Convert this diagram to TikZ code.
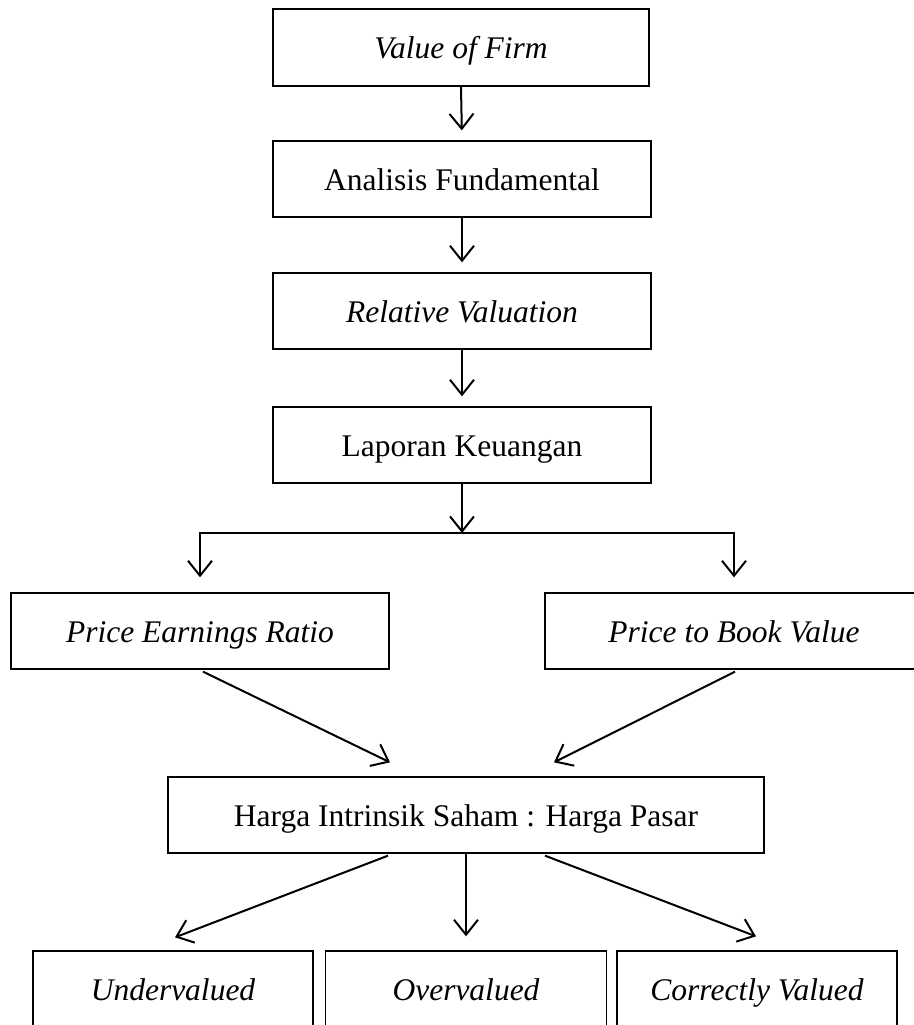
\documentclass[tikz,border=0pt]{standalone}
\usepackage{fontspec}
\setmainfont{Liberation Serif}
\usetikzlibrary{arrows.meta,calc}
\begin{document}
\begin{tikzpicture}[x=1pt,y=-1pt,
  box/.style={draw, line width=1.3pt, inner sep=0pt, minimum height=76pt, text height=23pt, text depth=0pt, font=\fontsize{31.5}{36}\selectfont},
  arr/.style={line width=2pt, -{Straight Barb[length=15pt,width=24pt,line width=2pt]}}]
\fill[white] (0,0) rectangle (913,1025);
\useasboundingbox (0,0) rectangle (913,1025);
\node[box, line width=2.4pt, minimum width=376pt, minimum height=77pt] (vof) at (461,47.5) {\itshape Value of Firm};
\node[box, minimum width=378pt] (af) at (462,179) {Analisis Fundamental};
\node[box, minimum width=378pt] (rv) at (462,311) {\itshape Relative Valuation};
\node[box, minimum width=378pt] (lk) at (462,445) {Laporan Keuangan};
\node[box, minimum width=378pt] (per) at (200,631) {\itshape Price Earnings Ratio};
\node[box, minimum width=378pt] (pbv) at (734,631) {\itshape Price to Book Value};
\node[box, minimum width=596pt] (harga) at (466,815) {Harga Intrinsik Saham : Harga Pasar};
\node[box, minimum width=280pt] (under) at (173,989) {\itshape Undervalued};
\node[box, minimum width=281pt] (over) at (466,989) {\itshape Overvalued};
\node[box, minimum width=280pt] (corr) at (757,989) {\itshape Correctly Valued};
\coordinate (split) at (462,533);
\draw[arr, shorten >=10pt] (vof.south) -- (af.north);
\draw[arr, shorten >=10pt] (af.south) -- (rv.north);
\draw[arr, shorten >=10pt] (rv.south) -- (lk.north);
\draw[arr] (lk.south) -- (split);
\draw[line width=2pt] (per.north |- split) -- (pbv.north |- split);
\draw[arr, shorten >=15pt] (split) -| (per.north);
\draw[arr, shorten >=15pt] (split) -| (pbv.north);
\draw[arr] ($(per.south)+(3,2)$) -- ($(harga.north)+(-76,-14)$);
\draw[arr] ($(pbv.south)+(1,2)$) -- ($(harga.north)+(88,-14)$);
\draw[arr] ($(harga.south)+(-78,2)$) -- ($(under.north)+(2,-13)$);
\draw[arr] (harga.south) -- ($(over.north)+(0,-14)$);
\draw[arr] ($(harga.south)+(79,2)$) -- ($(corr.north)+(-1,-14)$);
\end{tikzpicture}
\end{document}
